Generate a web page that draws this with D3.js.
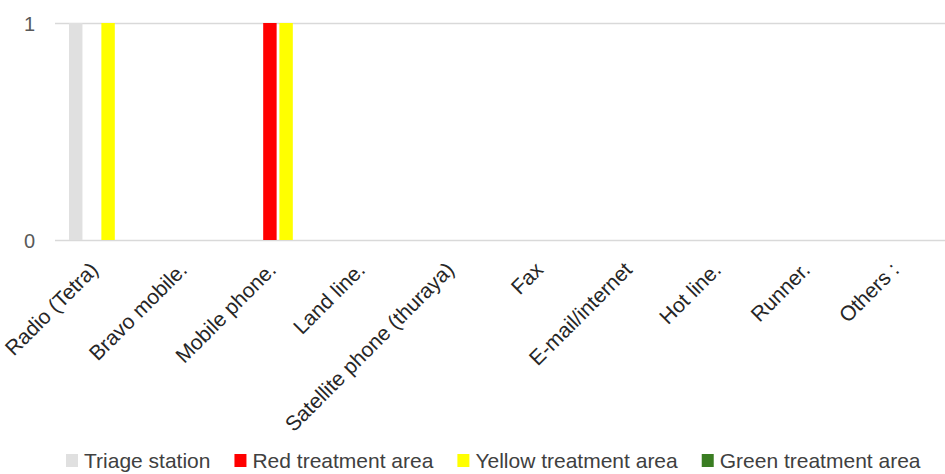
<!DOCTYPE html>
<html>
<head>
<meta charset="utf-8">
<script src="https://cdn.jsdelivr.net/npm/d3@7"></script>
<style>
  html, body { margin: 0; padding: 0; background: #fff; }
  svg { display: block; font-family: "Liberation Sans", Arial, sans-serif; }
</style>
</head>
<body>
<svg id="chart" width="945" height="474"></svg>
<script>
// Communication means used per treatment area
const categories = [
  "Radio (Tetra)", "Bravo mobile.", "Mobile phone.", "Land line.",
  "Satellite phone (thuraya)", "Fax", "E-mail/internet", "Hot line.",
  "Runner.", "Others :"
];
const seriesNames = ["Triage station", "Red treatment area", "Yellow treatment area", "Green treatment area"];
const triageStation   = [1, 0, 0, 0, 0, 0, 0, 0, 0, 0];
const redTreatment    = [0, 0, 1, 0, 0, 0, 0, 0, 0, 0];
const yellowTreatment = [1, 0, 1, 0, 0, 0, 0, 0, 0, 0];
const greenTreatment  = [0, 0, 0, 0, 0, 0, 0, 0, 0, 0];
const yTicks = [0, 1];

const seriesValues = [triageStation, redTreatment, yellowTreatment, greenTreatment];
const colors = ["#E0E0E0", "#FF0000", "#FFFF00", "#3A7D22"];

const svg = d3.select("#chart");
const plot = { left: 55, right: 945, top: 23, bottom: 240 };

const x0 = d3.scaleBand().domain(categories).range([plot.left, plot.right]).padding(0);
const x1 = d3.scaleBand().domain(seriesNames).range([14, 76]).paddingInner(0.17).paddingOuter(0);
const y = d3.scaleLinear().domain([0, 1]).range([plot.bottom, plot.top]);

// gridlines + y labels
const yAxis = d3.axisLeft(y).tickValues(yTicks).tickSize(-(plot.right - plot.left)).tickPadding(20).tickFormat(d3.format("d"));
const yg = svg.append("g").attr("transform", `translate(${plot.left},0)`).call(yAxis);
yg.select(".domain").remove();
yg.selectAll(".tick line").attr("stroke", "#D9D9D9").attr("stroke-width", 1.3);
yg.selectAll(".tick text").attr("fill", "#595959").style("font-size", "20px").attr("dy", "0.35em");

// bars
const rows = categories.map((c, i) => ({ cat: c, vals: seriesNames.map((s, k) => ({ s, v: seriesValues[k][i], k })) }));
const groups = svg.append("g").selectAll("g").data(rows).join("g")
  .attr("transform", d => `translate(${x0(d.cat)},0)`);
groups.selectAll("rect").data(d => d.vals).join("rect")
  .attr("x", d => x1(d.s))
  .attr("width", x1.bandwidth())
  .attr("y", d => y(d.v))
  .attr("height", d => y(0) - y(d.v))
  .attr("fill", d => colors[d.k]);

// category labels, rotated
const xAxis = d3.axisBottom(x0).tickSize(0).tickPadding(0);
const xg = svg.append("g").attr("transform", `translate(0,${plot.bottom})`).call(xAxis);
xg.select(".domain").remove();
xg.selectAll(".tick text")
  .attr("fill", "#262626")
  .style("font-size", "21px")
  .attr("text-anchor", "end")
  .attr("x", 0).attr("y", 0).attr("dy", 0)
  .attr("transform", "translate(0,31) rotate(-45)");

// legend
const legend = svg.append("g").attr("transform", "translate(66,468)");
let lx = 0;
seriesNames.forEach((name, k) => {
  const item = legend.append("g").attr("transform", `translate(${lx},0)`);
  item.append("rect").attr("x", 0).attr("y", -14).attr("width", 12).attr("height", 13).attr("fill", colors[k]);
  const t = item.append("text").attr("x", 18).attr("y", 0).attr("fill", "#404040").style("font-size", "21px").text(name);
  lx += 18 + t.node().getComputedTextLength() + 24;
});
</script>
</body>
</html>
